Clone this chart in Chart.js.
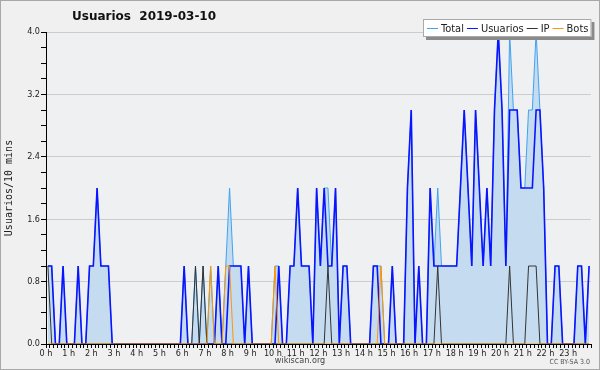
<!DOCTYPE html>
<html>
<head>
<meta charset="utf-8">
<title>Usuarios 2019-03-10</title>
<script src="https://cdn.jsdelivr.net/npm/chart.js@4.4.1/dist/chart.umd.min.js"></script>
<style>
  html, body { margin: 0; padding: 0; background: #f0f0f0; }
  #chart { display: block; }
</style>
</head>
<body>
<canvas id="chart" width="600" height="370"></canvas>
<script>
// one value per 10 minutes, six per hour, three hours per row
const usuarios = [
    1, 1, 0, 0, 1, 0,   0, 0, 1, 0, 0, 1,   1, 2, 1, 1, 1, 0,
    0, 0, 0, 0, 0, 0,   0, 0, 0, 0, 0, 0,   0, 0, 0, 0, 0, 0,
    1, 0, 0, 0, 0, 0,   0, 0, 0, 1, 0, 0,   1, 1, 1, 1, 0, 1,
    0, 0, 0, 0, 0, 0,   0, 1, 0, 0, 1, 1,   2, 1, 1, 1, 0, 2,
    1, 2, 1, 1, 2, 0,   1, 1, 0, 0, 0, 0,   0, 0, 1, 1, 0, 0,
    0, 1, 0, 0, 0, 2,   3, 0, 1, 0, 0, 2,   1, 1, 1, 1, 1, 1,
    1, 2, 3, 2, 1, 3,   2, 1, 2, 1, 3, 4,   3, 1, 3, 3, 3, 2,
    2, 2, 2, 3, 3, 2,   0, 0, 1, 1, 0, 0,   0, 0, 1, 1, 0, 1
];
const total = [
    1, 1, 0, 0, 1, 0,   0, 0, 1, 0, 0, 1,   1, 2, 1, 1, 1, 0,
    0, 0, 0, 0, 0, 0,   0, 0, 0, 0, 0, 0,   0, 0, 0, 0, 0, 0,
    1, 0, 0, 1, 0, 1,   0, 1, 0, 1, 0, 1,   2, 1, 1, 1, 0, 1,
    0, 0, 0, 0, 0, 0,   1, 1, 0, 0, 1, 1,   2, 1, 1, 1, 0, 2,
    1, 2, 2, 1, 2, 0,   1, 1, 0, 0, 0, 0,   0, 0, 1, 1, 1, 0,
    0, 1, 0, 0, 0, 2,   3, 0, 1, 0, 0, 2,   1, 2, 1, 1, 1, 1,
    1, 2, 3, 2, 1, 3,   2, 1, 2, 1, 3, 4,   3, 1, 4, 3, 3, 2,
    2, 3, 3, 4, 3, 2,   0, 0, 1, 1, 0, 0,   0, 0, 1, 1, 0, 1
];
const ip = [
    1, 0, 0, 0, 0, 0,   0, 0, 0, 0, 0, 0,   0, 0, 0, 0, 0, 0,
    0, 0, 0, 0, 0, 0,   0, 0, 0, 0, 0, 0,   0, 0, 0, 0, 0, 0,
    0, 0, 0, 1, 0, 1,   0, 0, 0, 0, 0, 0,   0, 0, 0, 0, 0, 0,
    0, 0, 0, 0, 0, 0,   0, 0, 0, 0, 0, 0,   0, 0, 0, 0, 0, 0,
    0, 0, 1, 0, 0, 0,   0, 0, 0, 0, 0, 0,   0, 0, 0, 0, 0, 0,
    0, 0, 0, 0, 0, 0,   0, 0, 0, 0, 0, 0,   0, 1, 0, 0, 0, 0,
    0, 0, 0, 0, 0, 0,   0, 0, 0, 0, 0, 0,   0, 0, 1, 0, 0, 0,
    0, 1, 1, 1, 0, 0,   0, 0, 0, 0, 0, 0,   0, 0, 0, 0, 0, 0
];
const bots = [
    0, 0, 0, 0, 0, 0,   0, 0, 0, 0, 0, 0,   0, 0, 0, 0, 0, 0,
    0, 0, 0, 0, 0, 0,   0, 0, 0, 0, 0, 0,   0, 0, 0, 0, 0, 0,
    0, 0, 0, 0, 0, 0,   0, 1, 0, 0, 0, 1,   1, 0, 0, 0, 0, 0,
    0, 0, 0, 0, 0, 0,   1, 0, 0, 0, 0, 0,   0, 0, 0, 0, 0, 0,
    0, 0, 0, 0, 0, 0,   0, 0, 0, 0, 0, 0,   0, 0, 0, 0, 1, 0,
    0, 0, 0, 0, 0, 0,   0, 0, 0, 0, 0, 0,   0, 0, 0, 0, 0, 0,
    0, 0, 0, 0, 0, 0,   0, 0, 0, 0, 0, 0,   0, 0, 0, 0, 0, 0,
    0, 0, 0, 0, 0, 0,   0, 0, 0, 0, 0, 0,   0, 0, 0, 0, 0, 0
];

const hourLabels = [
    '0 h', '1 h', '2 h', '3 h', '4 h', '5 h', '6 h', '7 h', '8 h', '9 h', '10 h', '11 h',
    '12 h', '13 h', '14 h', '15 h', '16 h', '17 h', '18 h', '19 h', '20 h', '21 h', '22 h', '23 h'
];
const yMajorTicks = [0, 0.8, 1.6, 2.4, 3.2, 4.0];

const chartTitle = 'Usuarios  2019-03-10';
const yTitle = 'Usuarios/10 mins';
const footer = 'wikiscan.org';
const licence = 'CC BY-SA 3.0';

// 10 minute slots; the first slot of each hour carries the hour label
const slots = [];
hourLabels.forEach(h => {
    for (let m = 0; m < 6; m++) slots.push(m === 0 ? h : '');
});

const FONT = "'DejaVu Sans Condensed', 'DejaVu Sans', sans-serif";

function isMajor(v) {
    return yMajorTicks.some(t => Math.abs(t - v) < 1e-6);
}

// background, title, legend box, footer and frame
const decorPlugin = {
    id: 'decor',
    beforeDraw(chart) {
        const ctx = chart.ctx;
        const a = chart.chartArea;
        ctx.save();
        ctx.fillStyle = '#f0f0f0';
        ctx.fillRect(0, 0, chart.width, chart.height);
        ctx.fillStyle = '#eff0f2';
        ctx.fillRect(a.left, a.top, a.right - a.left, a.bottom - a.top);
        ctx.restore();
    },
    afterDraw(chart) {
        const ctx = chart.ctx;
        ctx.save();

        ctx.fillStyle = '#111';
        ctx.font = "bold 12px 'DejaVu Sans', sans-serif";
        ctx.textBaseline = 'middle';
        ctx.textAlign = 'left';
        ctx.fillText(chartTitle, 72, 17);

        // legend
        ctx.font = '11px ' + FONT;
        const sets = chart.data.datasets;
        let w = 4;
        sets.forEach(d => { w += 14 + ctx.measureText(d.label).width + 3; });
        const bx = Math.round(591 - w), by = 19, bh = 18;
        ctx.fillStyle = '#8a8a8a';
        ctx.fillRect(bx + 3, by + 3, w, bh);
        ctx.fillStyle = '#fff';
        ctx.fillRect(bx, by, w, bh);
        ctx.strokeStyle = '#aaa';
        ctx.lineWidth = 1;
        ctx.strokeRect(bx + 0.5, by + 0.5, w - 1, bh - 1);
        let x = bx + 4;
        const cy = by + bh / 2;
        sets.forEach(d => {
            ctx.strokeStyle = d.borderColor;
            ctx.lineWidth = 1;
            ctx.beginPath();
            ctx.moveTo(x, Math.round(cy) + 0.5);
            ctx.lineTo(x + 11, Math.round(cy) + 0.5);
            ctx.stroke();
            x += 14;
            ctx.fillStyle = '#222';
            ctx.fillText(d.label, x, cy + 1);
            x += ctx.measureText(d.label).width + 3;
        });

        ctx.font = '9px ' + FONT;
        ctx.fillStyle = '#444';
        ctx.textAlign = 'center';
        ctx.fillText(footer, 300, 361);
        ctx.font = '7px ' + FONT;
        ctx.textAlign = 'right';
        ctx.fillStyle = '#555';
        ctx.fillText(licence, 590, 362);

        ctx.strokeStyle = '#a8a8a8';
        ctx.lineWidth = 1;
        ctx.strokeRect(0.5, 0.5, chart.width - 1, chart.height - 1);
        ctx.restore();
    }
};

function line(label, data, color, width, order, extra) {
    return Object.assign({
        label: label,
        data: data,
        borderColor: color,
        borderWidth: width,
        pointRadius: 0,
        tension: 0,
        fill: false,
        order: order
    }, extra || {});
}

new Chart(document.getElementById('chart'), {
    type: 'line',
    data: {
        labels: slots,
        datasets: [
            line('Total', total, '#3fa2f2', 1, 3, { fill: 'origin', backgroundColor: '#c5dcf0' }),
            line('Usuarios', usuarios, '#0a14ff', 1.6, 2),
            line('IP', ip, '#333333', 1, 1),
            line('Bots', bots, '#ff9600', 1, 0)
        ]
    },
    options: {
        responsive: false,
        animation: false,
        events: [],
        layout: { padding: { left: 0, right: 9, top: 32, bottom: 0 } },
        plugins: {
            legend: { display: false },
            title: { display: false },
            tooltip: { enabled: false }
        },
        scales: {
            x: {
                type: 'category',
                offset: true,
                afterFit(scale) { scale.height = 26; },
                border: { color: '#000', width: 1 },
                grid: { drawOnChartArea: false, color: '#000', tickLength: 4, offset: true },
                ticks: {
                    autoSkip: false,
                    maxRotation: 0,
                    minRotation: 0,
                    padding: 0,
                    labelOffset: -2,
                    color: '#222',
                    font: { family: FONT, size: 9 },
                    callback: (v, i) => slots[i]
                }
            },
            y: {
                min: 0,
                max: 4,
                afterFit(scale) { scale.width = 46; },
                border: { color: '#000', width: 1 },
                grid: {
                    color: c => (c.tick && c.tick.value > 0 && isMajor(c.tick.value)) ? '#cccccc' : 'rgba(0,0,0,0)',
                    tickColor: '#000',
                    tickLength: 5
                },
                ticks: {
                    stepSize: 0.2,
                    padding: 1,
                    color: '#222',
                    font: { family: FONT, size: 9 },
                    callback: v => isMajor(v) ? v.toFixed(1) : ''
                },
                title: {
                    display: true,
                    text: yTitle,
                    color: '#222',
                    font: { family: "'DejaVu Sans Mono', monospace", size: 10 },
                    padding: { top: 3, bottom: 0 }
                }
            }
        }
    },
    plugins: [decorPlugin]
});
</script>
</body>
</html>
